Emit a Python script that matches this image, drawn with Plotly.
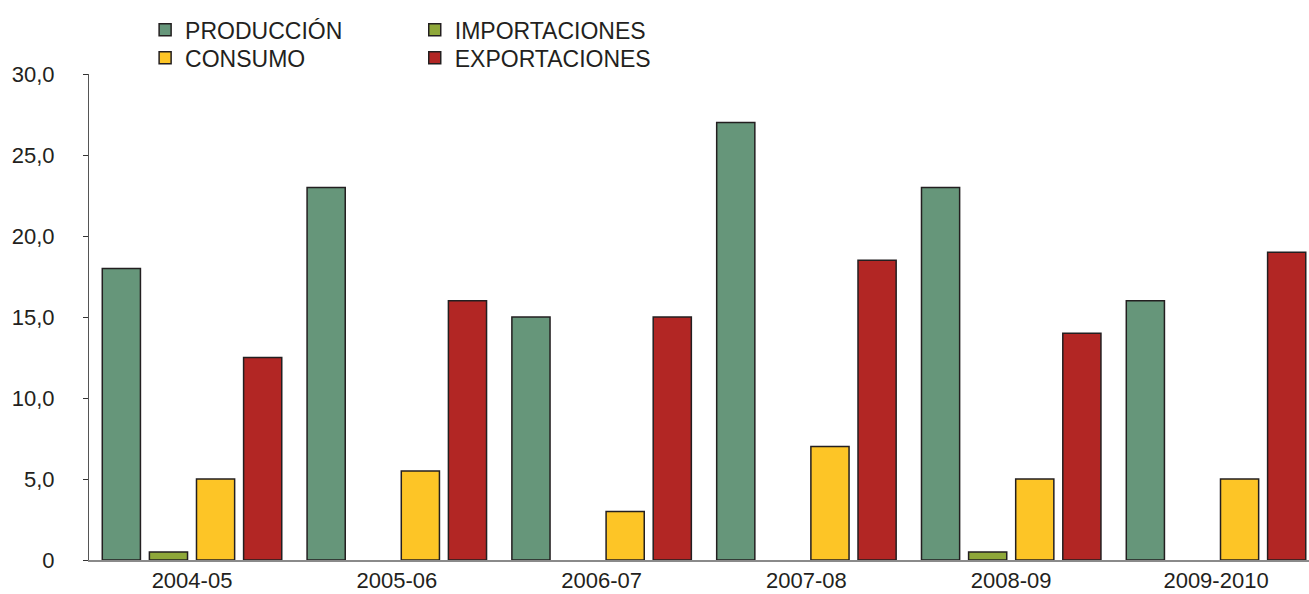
import plotly.graph_objects as go

categories = ["2004-05", "2005-06", "2006-07", "2007-08", "2008-09", "2009-2010"]
produccion = [18, 23, 15, 27, 23, 16]
importaciones = [0.5, None, None, None, 0.5, None]
consumo = [5, 5.5, 3, 7, 5, 5]
exportaciones = [12.5, 16, 15, 18.5, 14, 19]
y_ticks = [0, 5, 10, 15, 20, 25, 30]
y_tick_labels = ["0", "5,0", "10,0", "15,0", "20,0", "25,0", "30,0"]

FONT = "Liberation Sans, Arial, sans-serif"
TXT = "#231F20"
OUT = "#231F20"

series = [
    ("PRODUCCIÓN", produccion, "#66967A", "legend"),
    ("IMPORTACIONES", importaciones, "#8FA83A", "legend2"),
    ("CONSUMO", consumo, "#FDC526", "legend3"),
    ("EXPORTACIONES", exportaciones, "#B22624", "legend4"),
]

fig = go.Figure()
for name, vals, color, lg in series:
    fig.add_trace(go.Bar(
        x=categories, y=vals, name=name, legend=lg,
        marker=dict(color=color, line=dict(color=OUT, width=1.5)),
    ))


def leg(x, y):
    return dict(x=x, y=y, xanchor="left", yanchor="top", orientation="v",
                font=dict(size=23, color=TXT), bgcolor="rgba(0,0,0,0)",
                itemwidth=30)


fig.update_layout(
    width=1309, height=594,
    margin=dict(l=89, r=0, t=74, b=34),
    paper_bgcolor="white", plot_bgcolor="white",
    barmode="group", bargap=0.08, bargroupgap=0.19,
    font=dict(family=FONT, size=22, color=TXT),
    showlegend=True,
    legend=leg(0.046, 1.135),
    legend2=leg(0.267, 1.135),
    legend3=leg(0.046, 1.0774),
    legend4=leg(0.267, 1.0774),
    xaxis=dict(type="category", range=[-0.503, 5.454], showline=True,
               linecolor="#8a8a8a", linewidth=1.5, ticks="", showgrid=False,
               zeroline=False, tickfont=dict(size=22, color=TXT)),
    yaxis=dict(range=[0, 30], tickvals=y_ticks, ticktext=y_tick_labels,
               showline=True, linecolor="#555555", linewidth=1,
               ticks="outside", ticklen=5, tickcolor="#333333",
               showgrid=False, zeroline=False, ticklabelstandoff=24,
               tickfont=dict(size=22, color=TXT)),
)

fig.write_html("out.html")
